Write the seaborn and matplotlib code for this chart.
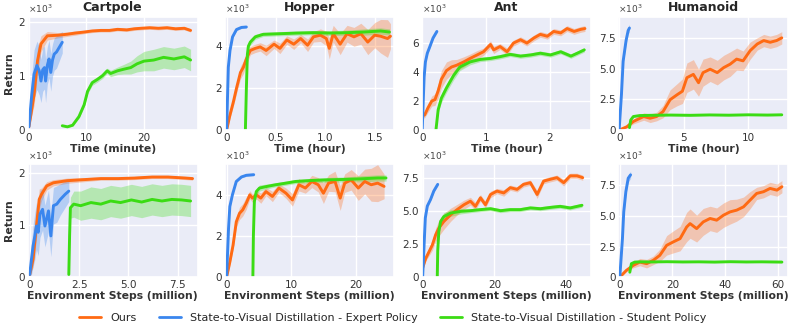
import numpy as np
import pandas as pd
import seaborn as sns
import matplotlib
matplotlib.use("Agg")
import matplotlib.pyplot as plt
from matplotlib.ticker import FuncFormatter
from matplotlib.lines import Line2D

# returns are in thousands (axes carry a x10^3 note)

# ---------- Cartpole, wall clock (minute) ----------
cart_t_ours_x = [0, 0.9, 1.5, 2.1, 3.2, 5, 6.7, 8, 9.6, 11, 12.5, 14, 15.4, 17, 18.3, 19.5, 21, 22.5, 24, 25.5, 27, 28.1]
cart_t_ours_y = [0.06, 0.66, 1.29, 1.6, 1.75, 1.76, 1.78, 1.8, 1.82, 1.84, 1.85, 1.85, 1.87, 1.86, 1.88, 1.89, 1.9, 1.89, 1.9, 1.88, 1.89, 1.85]
cart_t_ours_sd = [0.03, 0.2, 0.25, 0.15, 0.08, 0.05, 0.04, 0.04, 0.03, 0.03, 0.03, 0.03, 0.03, 0.03, 0.03, 0.03, 0.03, 0.03, 0.03, 0.03, 0.03, 0.03]
cart_t_exp_x = [0, 0.5, 0.9, 1.4, 1.8, 2.1, 2.4, 2.7, 2.9, 3.2, 3.5, 3.8, 4.1, 4.4, 4.8, 5.3, 5.8]
cart_t_exp_y = [0.06, 0.66, 1.04, 1.2, 1.1, 0.91, 1.12, 1.16, 0.91, 1.2, 1.32, 1.07, 1.3, 1.41, 1.45, 1.54, 1.63]
cart_t_exp_sd = [0.05, 0.35, 0.45, 0.45, 0.45, 0.4, 0.4, 0.4, 0.4, 0.35, 0.35, 0.35, 0.3, 0.3, 0.3, 0.25, 0.2]
cart_t_stu_x = [5.8, 6.7, 7.6, 8.7, 9.6, 10.2, 11, 11.9, 12.8, 13.6, 14.2, 15.4, 16.5, 17.7, 18.8, 20, 21.7, 23.4, 25.2, 27, 28.1]
cart_t_stu_y = [0.08, 0.06, 0.09, 0.25, 0.47, 0.72, 0.88, 0.94, 1.01, 1.1, 1.05, 1.1, 1.13, 1.16, 1.23, 1.28, 1.3, 1.35, 1.32, 1.36, 1.3]
cart_t_stu_sd = [0.01, 0.01, 0.02, 0.03, 0.04, 0.05, 0.05, 0.05, 0.05, 0.05, 0.06, 0.07, 0.09, 0.12, 0.15, 0.18, 0.2, 0.2, 0.2, 0.2, 0.2]

# ---------- Hopper, wall clock (hour) ----------
hop_t_ours_x = [0, 0.03, 0.07, 0.1, 0.14, 0.17, 0.2, 0.24, 0.29, 0.34, 0.4, 0.48, 0.54, 0.61, 0.68, 0.75, 0.82, 0.88, 0.95, 1.01, 1.04, 1.08, 1.15, 1.22, 1.29, 1.36, 1.43, 1.5, 1.56, 1.63, 1.66]
hop_t_ours_y = [0, 0.65, 1.38, 2.0, 2.75, 3.0, 3.4, 3.8, 3.9, 3.97, 3.8, 4.1, 3.9, 4.3, 4.1, 4.37, 4.05, 4.45, 4.53, 4.37, 3.9, 4.6, 4.1, 4.6, 4.45, 4.6, 4.2, 4.53, 4.48, 4.37, 4.48]
hop_t_ours_sd = [0.05, 0.15, 0.2, 0.25, 0.3, 0.3, 0.3, 0.2, 0.2, 0.2, 0.25, 0.2, 0.25, 0.2, 0.25, 0.2, 0.3, 0.25, 0.3, 0.35, 0.5, 0.4, 0.5, 0.4, 0.45, 0.5, 0.6, 0.6, 0.8, 0.9, 0.6]
hop_t_exp_x = [0, 0.017, 0.034, 0.06, 0.1, 0.15, 0.2]
hop_t_exp_y = [0, 3.0, 3.8, 4.45, 4.8, 4.9, 4.92]
hop_t_exp_sd = 0.05
hop_t_stu_x = [0.19, 0.2, 0.21, 0.22, 0.24, 0.29, 0.37, 0.54, 0.71, 0.88, 1.05, 1.22, 1.39, 1.56, 1.65]
hop_t_stu_y = [0, 2.0, 3.6, 4.0, 4.2, 4.45, 4.57, 4.6, 4.63, 4.65, 4.63, 4.65, 4.68, 4.73, 4.68]
hop_t_stu_sd = [0.05, 0.1, 0.15, 0.15, 0.15, 0.12, 0.1, 0.1, 0.1, 0.1, 0.12, 0.12, 0.15, 0.15, 0.15]

# ---------- Ant, wall clock (hour) ----------
ant_t_ours_x = [0, 0.04, 0.09, 0.15, 0.2, 0.25, 0.3, 0.38, 0.46, 0.54, 0.65, 0.75, 0.86, 0.96, 1.07, 1.12, 1.22, 1.33, 1.43, 1.54, 1.64, 1.75, 1.85, 1.96, 2.06, 2.17, 2.27, 2.38, 2.48, 2.55]
ant_t_ours_y = [0.95, 1.06, 1.53, 2.0, 2.1, 2.7, 3.5, 4.1, 4.35, 4.47, 4.7, 4.94, 5.18, 5.4, 5.9, 5.53, 5.76, 5.4, 6.0, 6.23, 6.0, 6.35, 6.6, 6.47, 6.8, 6.7, 7.0, 6.8, 6.94, 7.0]
ant_t_ours_sd = [0.15, 0.2, 0.3, 0.35, 0.4, 0.5, 0.6, 0.6, 0.5, 0.4, 0.35, 0.3, 0.3, 0.25, 0.25, 0.25, 0.2, 0.25, 0.2, 0.2, 0.2, 0.2, 0.2, 0.2, 0.2, 0.2, 0.2, 0.2, 0.2, 0.2]
ant_t_exp_x = [0, 0.016, 0.03, 0.05, 0.08, 0.12, 0.17, 0.23]
ant_t_exp_y = [0, 2.0, 3.65, 4.7, 5.3, 5.76, 6.35, 6.8]
ant_t_exp_sd = 0.1
ant_t_stu_x = [0.215, 0.25, 0.3, 0.38, 0.49, 0.59, 0.75, 0.91, 1.07, 1.22, 1.38, 1.54, 1.7, 1.85, 2.01, 2.17, 2.33, 2.43, 2.54]
ant_t_stu_y = [0, 1.4, 2.2, 2.9, 3.75, 4.35, 4.7, 4.87, 4.94, 5.06, 5.22, 5.1, 5.18, 5.3, 5.18, 5.4, 5.1, 5.3, 5.53]
ant_t_stu_sd = [0.05, 0.2, 0.3, 0.3, 0.3, 0.25, 0.2, 0.15, 0.15, 0.15, 0.15, 0.15, 0.15, 0.15, 0.15, 0.15, 0.15, 0.15, 0.15]

# ---------- Humanoid, wall clock (hour) ----------
hum_t_ours_x = [0, 0.6, 1.1, 1.9, 2.4, 2.9, 3.4, 3.95, 4.5, 4.9, 5.25, 5.75, 6.15, 6.5, 7.05, 7.6, 8.1, 8.6, 9.1, 9.6, 10.15, 10.7, 11.2, 11.7, 12.2, 12.6]
hum_t_ours_y = [0, 0.27, 0.7, 1.1, 0.96, 1.1, 1.5, 2.47, 2.88, 3.16, 4.26, 4.53, 3.85, 4.67, 4.95, 4.67, 5.08, 5.36, 5.77, 5.63, 6.46, 7.0, 7.28, 7.14, 7.28, 7.5]
hum_t_ours_sd = [0.05, 0.1, 0.2, 0.3, 0.35, 0.35, 0.5, 0.8, 0.9, 1.0, 1.2, 1.2, 1.1, 1.1, 1.0, 1.0, 1.0, 1.0, 0.9, 0.8, 0.7, 0.5, 0.5, 0.5, 0.5, 0.5]
hum_t_exp_x = [0, 0.18, 0.31, 0.54, 0.7, 0.8]
hum_t_exp_y = [0, 2.9, 5.6, 7.3, 8.1, 8.3]
hum_t_exp_sd = [0.05, 0.2, 0.3, 0.3, 0.3, 0.3]
hum_t_stu_x = [0.8, 0.9, 1.1, 1.6, 2.5, 4, 5.5, 7, 8.5, 10, 11.5, 12.6]
hum_t_stu_y = [0.2, 0.82, 1.1, 1.18, 1.2, 1.22, 1.2, 1.23, 1.21, 1.24, 1.22, 1.24]
hum_t_stu_sd = 0.05

# ---------- Cartpole, env steps (million) ----------
cart_s_ours_x = [0, 0.17, 0.34, 0.48, 0.6, 0.86, 1.2, 1.9, 2.75, 3.6, 4.47, 5.3, 6.2, 7.0, 7.9, 8.25]
cart_s_ours_y = [0.05, 0.35, 0.98, 1.49, 1.59, 1.75, 1.81, 1.85, 1.87, 1.89, 1.89, 1.9, 1.92, 1.92, 1.9, 1.89]
cart_s_ours_sd = [0.03, 0.15, 0.25, 0.2, 0.12, 0.08, 0.06, 0.05, 0.04, 0.03, 0.03, 0.03, 0.03, 0.03, 0.03, 0.03]
cart_s_exp_x = [0, 0.09, 0.17, 0.26, 0.34, 0.43, 0.52, 0.65, 0.77, 0.95, 1.07, 1.2, 1.37, 1.55, 1.8, 1.98]
cart_s_exp_y = [0.05, 0.35, 0.6, 0.79, 0.98, 0.86, 1.21, 1.3, 0.98, 1.27, 0.79, 1.37, 1.4, 1.49, 1.59, 1.65]
cart_s_exp_sd = [0.05, 0.3, 0.4, 0.45, 0.45, 0.45, 0.45, 0.4, 0.4, 0.4, 0.4, 0.35, 0.35, 0.3, 0.25, 0.2]
cart_s_stu_x = [1.98, 2.02, 2.06, 2.23, 2.58, 3.1, 3.6, 4.1, 4.6, 5.15, 5.67, 6.2, 6.7, 7.2, 7.7, 8.15]
cart_s_stu_y = [0.05, 0.8, 1.33, 1.4, 1.37, 1.43, 1.4, 1.46, 1.43, 1.48, 1.44, 1.49, 1.46, 1.49, 1.48, 1.46]
cart_s_stu_sd = [0.02, 0.15, 0.2, 0.25, 0.28, 0.3, 0.3, 0.3, 0.3, 0.3, 0.3, 0.3, 0.3, 0.3, 0.3, 0.3]

# ---------- Hopper, env steps (million) ----------
hop_s_ours_x = [0, 0.5, 1.0, 1.5, 2.0, 2.5, 3.05, 3.6, 4.0, 4.6, 5.3, 6.1, 7.1, 8.1, 9.2, 10.2, 11.2, 12.2, 13.2, 14.2, 15.0, 15.8, 16.8, 17.6, 18.3, 19.3, 20.4, 21.4, 22.4, 23.4, 24.4]
hop_s_ours_y = [0, 0.73, 1.55, 2.69, 3.1, 3.27, 3.6, 4.0, 3.84, 4.0, 3.84, 4.16, 3.92, 4.33, 4.08, 3.75, 4.49, 4.33, 4.65, 4.49, 4.08, 4.57, 4.65, 3.84, 4.57, 4.73, 4.33, 4.65, 4.49, 4.57, 4.41]
hop_s_ours_sd = [0.05, 0.15, 0.2, 0.25, 0.3, 0.3, 0.3, 0.2, 0.2, 0.2, 0.25, 0.2, 0.25, 0.2, 0.25, 0.3, 0.3, 0.25, 0.3, 0.35, 0.5, 0.4, 0.5, 0.6, 0.45, 0.5, 0.6, 0.6, 0.8, 0.9, 0.6]
hop_s_exp_x = [0, 0.3, 0.5, 0.9, 1.5, 2.3, 3.05, 4.2]
hop_s_exp_y = [0, 2.37, 3.43, 4.0, 4.65, 4.87, 4.95, 4.98]
hop_s_exp_sd = 0.05
hop_s_stu_x = [4.07, 4.15, 4.3, 4.6, 5.1, 6.1, 7.6, 9.2, 10.7, 13.2, 15.8, 18.3, 20.9, 23.4, 24.7]
hop_s_stu_y = [0, 2.0, 3.67, 4.16, 4.33, 4.4, 4.49, 4.57, 4.65, 4.7, 4.73, 4.75, 4.78, 4.82, 4.82]
hop_s_stu_sd = [0.05, 0.1, 0.15, 0.15, 0.15, 0.12, 0.1, 0.1, 0.1, 0.1, 0.12, 0.12, 0.15, 0.15, 0.15]

# ---------- Ant, env steps (million) ----------
ant_s_ours_x = [0, 0.83, 1.76, 2.7, 3.6, 4.5, 5.9, 7.8, 9.6, 11.5, 13.3, 14.7, 16.1, 17.5, 18.9, 20.7, 22.6, 24.4, 26.3, 28.1, 30, 31.9, 33.7, 35.6, 37.4, 39.3, 41.1, 43, 44.6]
ant_s_ours_y = [0.7, 1.41, 1.92, 2.44, 3.2, 3.72, 4.23, 4.74, 5.13, 5.5, 5.77, 5.38, 6.03, 5.5, 6.28, 6.54, 6.4, 6.8, 6.67, 7.05, 7.18, 6.28, 7.3, 7.44, 7.56, 7.18, 7.7, 7.7, 7.56]
ant_s_ours_sd = [0.15, 0.2, 0.3, 0.4, 0.5, 0.6, 0.6, 0.5, 0.4, 0.35, 0.3, 0.3, 0.25, 0.25, 0.25, 0.2, 0.25, 0.2, 0.2, 0.2, 0.2, 0.3, 0.2, 0.2, 0.2, 0.25, 0.2, 0.2, 0.2]
ant_s_exp_x = [0, 0.4, 0.74, 1.3, 2.2, 3.1, 4.2]
ant_s_exp_y = [0, 2.44, 4.5, 5.4, 5.9, 6.54, 7.05]
ant_s_exp_sd = 0.1
ant_s_stu_x = [4.07, 4.2, 4.5, 5.0, 5.9, 7.8, 10.6, 13.3, 16.1, 18.9, 21.7, 24.4, 27.2, 30, 32.8, 35.6, 38.3, 41.1, 44.4]
ant_s_stu_y = [0, 2.0, 3.46, 4.23, 4.6, 4.87, 5.0, 5.05, 5.13, 5.2, 5.05, 5.13, 5.13, 5.26, 5.2, 5.3, 5.38, 5.26, 5.46]
ant_s_stu_sd = [0.05, 0.2, 0.3, 0.3, 0.3, 0.25, 0.2, 0.15, 0.15, 0.15, 0.15, 0.15, 0.15, 0.15, 0.15, 0.15, 0.15, 0.15, 0.15]

# ---------- Humanoid, env steps (million) ----------
hum_s_ours_x = [0, 2.5, 5.1, 7.6, 10.2, 12.7, 15.2, 17.8, 20.3, 22.9, 25.4, 26.7, 29.2, 31.7, 34.3, 36.8, 39.4, 41.9, 44.4, 47, 49.5, 52, 54.6, 57.1, 59.7, 61.6]
hum_s_ours_y = [0, 0.55, 0.96, 1.23, 1.1, 1.37, 1.78, 2.6, 2.88, 3.15, 4.1, 4.38, 3.97, 4.52, 4.8, 4.66, 5.07, 5.34, 5.48, 5.75, 6.3, 6.85, 6.99, 7.26, 7.12, 7.4]
hum_s_ours_sd = [0.05, 0.1, 0.2, 0.3, 0.35, 0.35, 0.5, 0.8, 0.9, 1.0, 1.2, 1.2, 1.1, 1.1, 1.0, 1.0, 1.0, 1.0, 0.9, 0.8, 0.7, 0.5, 0.5, 0.5, 0.5, 0.5]
hum_s_exp_x = [0, 1.0, 1.5, 2.3, 3.2, 4.1]
hum_s_exp_y = [0, 3.15, 5.34, 7.0, 8.1, 8.37]
hum_s_exp_sd = [0.05, 0.2, 0.3, 0.3, 0.3, 0.3]
hum_s_stu_x = [3.8, 4.4, 5.7, 8, 12, 18, 24, 30, 36, 42, 48, 54, 61.6]
hum_s_stu_y = [0.4, 1.1, 1.23, 1.25, 1.24, 1.26, 1.24, 1.25, 1.23, 1.26, 1.24, 1.25, 1.23]
hum_s_stu_sd = 0.05

labels = ["Ours", "State-to-Visual Distillation - Expert Policy", "State-to-Visual Distillation - Student Policy"]
colors = ["#ff6a13", "#3a86ee", "#3bdc14"]

titles = ["Cartpole", "Hopper", "Ant", "Humanoid"]
top_xlabels = ["Time (minute)", "Time (hour)", "Time (hour)", "Time (hour)"]
bottom_xlabel = "Environment Steps (million)"

# panel settings: (series, xlim, ylim, xticks, yticks, xdec, ydec)
panels = [
    [((cart_t_ours_x, cart_t_ours_y, cart_t_ours_sd), (cart_t_exp_x, cart_t_exp_y, cart_t_exp_sd), (cart_t_stu_x, cart_t_stu_y, cart_t_stu_sd)),
     (-0.2, 29.3), (0, 2.1), [0, 10, 20], [0, 1, 2], 0, 0],
    [((hop_t_ours_x, hop_t_ours_y, hop_t_ours_sd), (hop_t_exp_x, hop_t_exp_y, hop_t_exp_sd), (hop_t_stu_x, hop_t_stu_y, hop_t_stu_sd)),
     (-0.02, 1.7), (0, 5.4), [0, 0.5, 1.0, 1.5], [0, 2, 4], 1, 0],
    [((ant_t_ours_x, ant_t_ours_y, ant_t_ours_sd), (ant_t_exp_x, ant_t_exp_y, ant_t_exp_sd), (ant_t_stu_x, ant_t_stu_y, ant_t_stu_sd)),
     (-0.01, 2.65), (0, 7.8), [0, 1, 2], [0, 2, 4, 6], 0, 0],
    [((hum_t_ours_x, hum_t_ours_y, hum_t_ours_sd), (hum_t_exp_x, hum_t_exp_y, hum_t_exp_sd), (hum_t_stu_x, hum_t_stu_y, hum_t_stu_sd)),
     (-0.05, 13.1), (0, 9.2), [0, 5, 10], [0, 2.5, 5.0, 7.5], 0, 1],
    [((cart_s_ours_x, cart_s_ours_y, cart_s_ours_sd), (cart_s_exp_x, cart_s_exp_y, cart_s_exp_sd), (cart_s_stu_x, cart_s_stu_y, cart_s_stu_sd)),
     (-0.1, 8.5), (0, 2.17), [0, 2.5, 5.0, 7.5], [0, 1, 2], 1, 0],
    [((hop_s_ours_x, hop_s_ours_y, hop_s_ours_sd), (hop_s_exp_x, hop_s_exp_y, hop_s_exp_sd), (hop_s_stu_x, hop_s_stu_y, hop_s_stu_sd)),
     (-0.3, 26), (0, 5.5), [0, 10, 20], [0, 2, 4], 0, 0],
    [((ant_s_ours_x, ant_s_ours_y, ant_s_ours_sd), (ant_s_exp_x, ant_s_exp_y, ant_s_exp_sd), (ant_s_stu_x, ant_s_stu_y, ant_s_stu_sd)),
     (-0.3, 47), (0, 8.6), [0, 20, 40], [0, 2.5, 5.0, 7.5], 0, 1],
    [((hum_s_ours_x, hum_s_ours_y, hum_s_ours_sd), (hum_s_exp_x, hum_s_exp_y, hum_s_exp_sd), (hum_s_stu_x, hum_s_stu_y, hum_s_stu_sd)),
     (-0.5, 64), (0, 9.26), [0, 20, 40, 60], [0, 2.5, 5.0, 7.5], 0, 1],
]

sns.set_theme(style="darkgrid", rc={
    "axes.facecolor": "#eaecf7",
    "grid.color": "white",
    "grid.linewidth": 1.0,
})
plt.rcParams["font.family"] = ["DejaVu Sans"]


def tick_fmt(dec):
    return FuncFormatter(lambda v, pos: "0" if abs(v) < 1e-9 else f"{v:.{dec}f}")


fig, axes = plt.subplots(2, 4, figsize=(7.93, 3.26), dpi=100)
fig.subplots_adjust(left=0.035, right=0.994, top=0.948, bottom=0.150, wspace=0.16, hspace=0.30)

for i, (series, xlim, ylim, xt, yt, xdec, ydec) in enumerate(panels):
    ax = axes.flat[i]
    for (x, y, sd), c in zip(series, colors):
        x = np.asarray(x, float)
        y = np.asarray(y, float)
        sd = np.broadcast_to(np.asarray(sd, float), y.shape)
        ax.fill_between(x, y - sd, y + sd, color=c, alpha=0.3, lw=0)
        df = pd.DataFrame({"x": x, "y": y})
        sns.lineplot(data=df, x="x", y="y", color=c, lw=2.1, ax=ax, sort=False)
    ax.set_xlim(*xlim)
    ax.set_ylim(*ylim)
    ax.set_xticks(xt)
    ax.set_yticks(yt)
    ax.xaxis.set_major_formatter(tick_fmt(xdec))
    ax.yaxis.set_major_formatter(tick_fmt(ydec))
    ax.tick_params(axis="x", labelsize=7.5, pad=2, length=0, colors="#333333")
    ax.tick_params(axis="y", labelsize=7.5, pad=2, length=0, colors="#333333")
    ax.text(0, 1.015, r"$\times10^{3}$", transform=ax.transAxes, fontsize=6.5,
            color="#444444", ha="left", va="bottom")
    row, col = divmod(i, 4)
    ax.set_xlabel(top_xlabels[col] if row == 0 else bottom_xlabel,
                  fontsize=7.8, fontweight="bold", labelpad=1, color="#333333")
    if col == 0:
        ax.set_ylabel("Return", fontsize=7.8, fontweight="bold", labelpad=3, color="#333333")
    else:
        ax.set_ylabel("")
    if row == 0:
        ax.set_title(titles[col], fontsize=9, fontweight="bold", pad=4)

handles = [Line2D([], [], color=c, lw=2) for c in colors]
fig.legend(handles, labels, loc="lower center", ncol=3, frameon=False,
           fontsize=8, bbox_to_anchor=(0.495, -0.02), handlelength=2.0,
           columnspacing=2.0)

fig.savefig("out.png", dpi=100)
